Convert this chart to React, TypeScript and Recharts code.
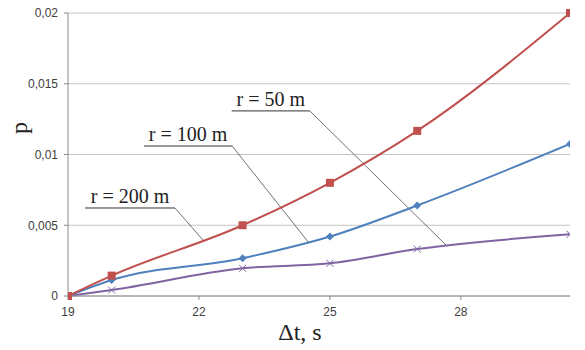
import { LineChart, Line, XAxis, YAxis, CartesianGrid, ReferenceLine, ReferenceDot } from "recharts"

// Δt values (s) at which p was computed
const dt = [19, 20, 23, 25, 27, 30.5]

// probability p for each radius
const p50 = [0, 0.00144, 0.005, 0.008, 0.01167, 0.02]
const p100 = [0, 0.00113, 0.00267, 0.0042, 0.0064, 0.01075]
const p200 = [0, 0.00042, 0.00196, 0.00231, 0.00332, 0.00436]

const xTicks = [19, 22, 25, 28]
const yTicks = [0, 0.005, 0.01, 0.015, 0.02]

// callout labels: underline from x1 to x2 at y, leader to (tx, ty)
const callouts = [
  { text: "r = 200 m", x1: 19.39, x2: 21.45, y: 0.00622, tx: 22.09, ty: 0.00396 },
  { text: "r = 100 m", x1: 20.74, x2: 22.76, y: 0.0106, tx: 24.52, ty: 0.00375 },
  { text: "r = 50 m", x1: 22.75, x2: 24.54, y: 0.01308, tx: 27.66, ty: 0.0036 },
]

const data = dt.map((t, i) => ({ t, r50: p50[i], r100: p100[i], r200: p200[i] }))

const serif = "'Liberation Serif', 'Times New Roman', serif"
const sans = "'Liberation Sans', Arial, sans-serif"

const fmt = (v: number) => String(v).replace(".", ",")

function Square(props: any) {
  const { cx, cy } = props
  if (cx == null || cy == null) return null
  return <rect x={cx - 4} y={cy - 4} width={8} height={8} fill="#C0504D" />
}

function Diamond(props: any) {
  const { cx, cy } = props
  if (cx == null || cy == null) return null
  return <path d={`M${cx},${cy - 4}L${cx + 4},${cy}L${cx},${cy + 4}L${cx - 4},${cy}Z`} fill="#4F81BD" />
}

function Cross(props: any) {
  const { cx, cy } = props
  if (cx == null || cy == null) return null
  return (
    <path
      d={`M${cx - 3.5},${cy - 3.5}L${cx + 3.5},${cy + 3.5}M${cx - 3.5},${cy + 3.5}L${cx + 3.5},${cy - 3.5}`}
      stroke="#8064A2"
      strokeWidth={1}
      fill="none"
    />
  )
}

export default function App() {
  return (
    <div style={{ position: "absolute", left: 0, top: 0, background: "#fff" }}>
      <LineChart width={585} height={350} data={data} margin={{ top: 13, right: 15, bottom: 0, left: 0 }}>
        <CartesianGrid vertical={false} stroke="#c4c4c4" />
        <XAxis
          dataKey="t"
          type="number"
          domain={[19, 30.5]}
          ticks={xTicks}
          allowDataOverflow
          height={54}
          stroke="#8a8a8a"
          tickSize={4}
          tickMargin={7}
          tick={{ fontSize: 12, fill: "#404040", fontFamily: sans }}
          label={() => (
            <text x={300} y={340} textAnchor="middle" fontFamily={serif} fontSize={24} fill="#222">
              Δt, s
            </text>
          )}
        />
        <YAxis
          type="number"
          domain={[0, 0.02]}
          ticks={yTicks}
          width={68}
          stroke="#8a8a8a"
          tickSize={4}
          tickMargin={6}
          tickFormatter={fmt}
          tick={{ fontSize: 12, fill: "#404040", fontFamily: sans }}
          label={() => (
            <text
              x={19}
              y={128}
              transform="rotate(-90 19 128)"
              textAnchor="middle"
              dominantBaseline="central"
              fontFamily={serif}
              fontSize={24}
              fill="#222"
            >
              p
            </text>
          )}
        />
        {callouts.map((c) => (
          <ReferenceLine
            key={c.text + "u"}
            segment={[{ x: c.x1, y: c.y }, { x: c.x2, y: c.y }]}
            stroke="#333"
            strokeWidth={1}
            ifOverflow="visible"
          />
        ))}
        {callouts.map((c) => (
          <ReferenceLine
            key={c.text + "l"}
            segment={[{ x: c.x2, y: c.y }, { x: c.tx, y: c.ty }]}
            stroke="#333"
            strokeWidth={0.7}
            ifOverflow="visible"
          />
        ))}
        <Line type="monotone" dataKey="r200" stroke="#8064A2" strokeWidth={2} dot={<Cross />} isAnimationActive={false} />
        <Line type="monotone" dataKey="r100" stroke="#4F81BD" strokeWidth={2} dot={<Diamond />} isAnimationActive={false} />
        <Line type="monotone" dataKey="r50" stroke="#C0504D" strokeWidth={2} dot={<Square />} isAnimationActive={false} />
        {callouts.map((c) => (
          <ReferenceDot
            key={c.text}
            x={(c.x1 + c.x2) / 2}
            y={c.y}
            r={1}
            fill="none"
            stroke="none"
            ifOverflow="visible"
            label={(props: any) => {
              const vb = props.viewBox || {}
              const cx = (vb.x ?? 0) + (vb.width ?? 0) / 2
              const cy = vb.y ?? 0
              return (
                <text x={cx} y={cy - 4} textAnchor="middle" fontFamily={serif} fontSize={20} fill="#222">
                  {c.text}
                </text>
              )
            }}
          />
        ))}
      </LineChart>
    </div>
  )
}
